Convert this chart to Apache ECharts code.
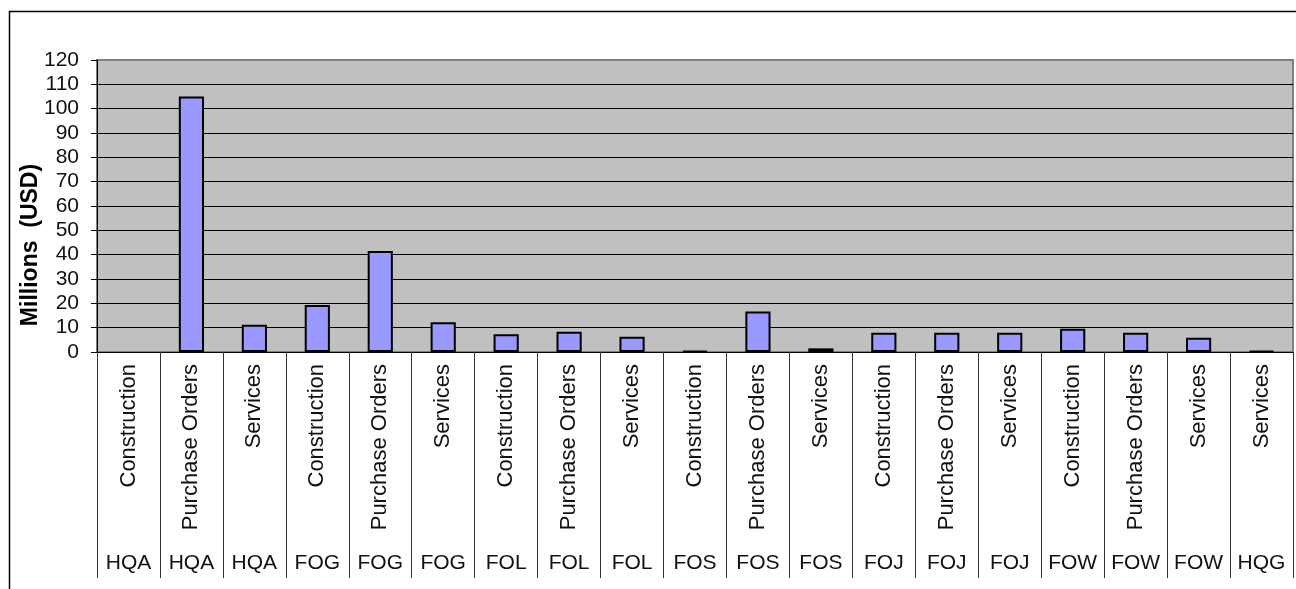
<!DOCTYPE html>
<html>
<head>
<meta charset="utf-8">
<script src="https://cdn.jsdelivr.net/npm/echarts@6/dist/echarts.min.js"></script>
<style>
  html, body { margin: 0; padding: 0; background: #fff; }
  #chart { width: 1296px; height: 589px; }
</style>
</head>
<body>
<div id="chart"></div>
<script>
// Contract spend by office and contract type
const offices = ['HQA','HQA','HQA','FOG','FOG','FOG','FOL','FOL','FOL','FOS','FOS','FOS','FOJ','FOJ','FOJ','FOW','FOW','FOW','HQG'];
const contractTypes = ['Construction','Purchase Orders','Services','Construction','Purchase Orders','Services','Construction','Purchase Orders','Services','Construction','Purchase Orders','Services','Construction','Purchase Orders','Services','Construction','Purchase Orders','Services','Services'];
const spendMillions = [0, 105, 11.2, 19.3, 41.5, 12.2, 7.3, 8.3, 6.3, 0.4, 16.6, 1.5, 7.9, 7.9, 7.9, 9.6, 7.9, 5.9, 0.4];
const yTicks = { min: 0, max: 120, step: 10 };
const yTitle = 'Millions  (USD)';

const FONT = '"Liberation Sans", Arial, sans-serif';

// black grid lines, grey at the top edge of the plot
const gridLineColors = [];
for (let v = yTicks.min; v <= yTicks.max; v += yTicks.step) {
  gridLineColors.push(v === yTicks.max ? '#808080' : '#000000');
}

// an empty value draws no outline
const barData = spendMillions.map(v => v === 0 ? { value: v, itemStyle: { borderWidth: 0 } } : v);

const chart = echarts.init(document.getElementById('chart'), null, { renderer: 'canvas' });

chart.setOption({
  animation: false,
  backgroundColor: '#ffffff',
  graphic: [{
    type: 'rect',
    shape: { x: 9.5, y: 11.5, width: 1400, height: 700 },
    style: { fill: 'none', stroke: '#000', lineWidth: 1.5 },
    silent: true,
    z: 100
  }, {
    type: 'text',
    x: 31, y: 245,
    rotation: Math.PI / 2,
    style: {
      text: yTitle,
      fontFamily: FONT, fontSize: 23, fontWeight: 'bold', fill: '#000',
      textAlign: 'center', textVerticalAlign: 'middle'
    },
    silent: true
  }],
  grid: {
    left: 97, top: 60, right: 3, bottom: 237,
    show: true,
    backgroundColor: '#C0C0C0',
    borderColor: '#808080',
    borderWidth: 2
  },
  xAxis: [{
    type: 'category',
    position: 'bottom',
    data: contractTypes,
    axisLine: { show: true, lineStyle: { color: '#000', width: 1 } },
    axisTick: { show: true, interval: 0, length: 226, lineStyle: { color: '#333', width: 1 } },
    axisLabel: {
      interval: 0, rotate: 90, margin: 12,
      fontFamily: FONT, fontSize: 22, color: '#111'
    },
    splitLine: { show: false }
  }, {
    type: 'category',
    position: 'bottom',
    data: offices,
    axisLine: { show: false },
    axisTick: { show: false },
    axisLabel: {
      interval: 0, margin: 201,
      fontFamily: FONT, fontSize: 21, color: '#111'
    },
    splitLine: { show: false }
  }],
  yAxis: {
    type: 'value',
    min: yTicks.min, max: yTicks.max, interval: yTicks.step,
    axisLine: { show: true, lineStyle: { color: '#000', width: 1 } },
    axisTick: { show: true, length: 6, lineStyle: { color: '#000', width: 1 } },
    axisLabel: { margin: 18, fontFamily: FONT, fontSize: 21, color: '#111' },
    splitLine: { show: true, lineStyle: { color: gridLineColors, width: 1 } }
  },
  series: [{
    type: 'bar',
    xAxisIndex: 0,
    data: barData,
    barWidth: '40%',
    itemStyle: { color: '#9999FF', borderColor: '#000', borderWidth: 2 }
  }]
});
</script>
</body>
</html>
